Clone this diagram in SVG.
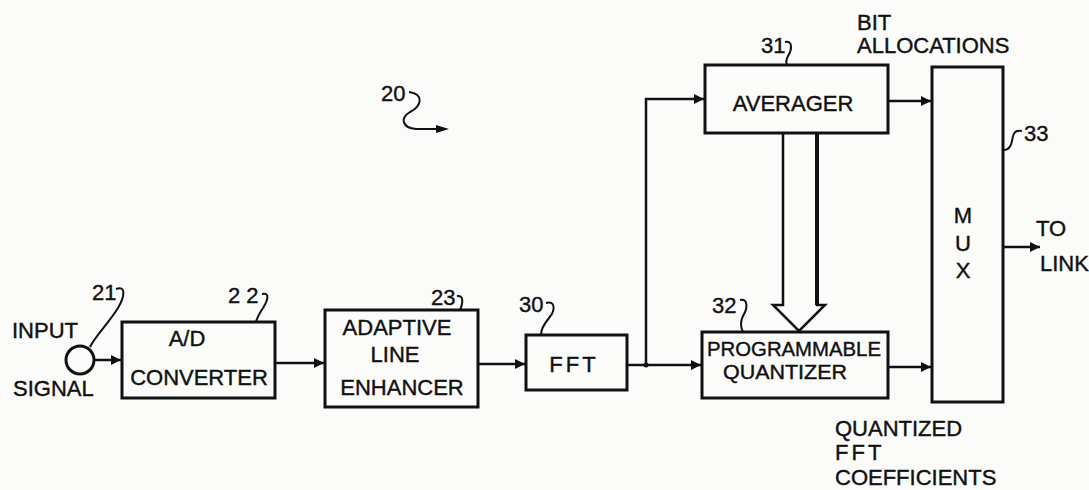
<svg xmlns="http://www.w3.org/2000/svg" width="1089" height="490" viewBox="0 0 1089 490">
<defs>
<style>
.box{fill:none;stroke:#111;stroke-width:3}
.ln{fill:none;stroke:#111;stroke-width:2.5}
.sq{fill:none;stroke:#111;stroke-width:2}
text{font-family:"Liberation Sans",Arial,sans-serif;font-size:22px;fill:#111;stroke:#111;stroke-width:0.4}
.c{text-anchor:middle}
.s{font-size:20px}
</style>
<marker id="ah" viewBox="0 0 10 10" refX="10" refY="5" markerWidth="4" markerHeight="4" orient="auto" markerUnits="strokeWidth">
<path d="M0,0 L10,5 L0,10 z" fill="#111"/>
</marker>
</defs>
<rect width="1089" height="490" fill="#fbfbfa"/>

<g id="ref20">
<text x="381" y="101">20</text>
<path class="sq" d="M409,92 C424,94 422,106 410,112 C400,118 402,128 416,129 L438,129"/>
<path d="M436,125 L449,129 L436,133 z" fill="#111"/>
</g>

<g id="input">
<circle cx="80" cy="360" r="14" fill="none" stroke="#111" stroke-width="3"/>
<text x="12" y="338">INPUT</text>
<text x="13" y="396">SIGNAL</text>
<text x="92" y="300">21</text>
<path class="sq" d="M116,289 C126,285 125,296 118,308 C108,324 96,335 90,347"/>
</g>

<g id="adc">
<rect class="box" x="122" y="322" width="153" height="76"/>
<text class="c" x="187" y="346">A/D</text>
<text class="c" x="199" y="385">CONVERTER</text>
<text x="228" y="303">2 2</text>
<path class="sq" d="M262,294 C270,292 268,300 263,308 C259,314 257,318 256,322"/>
</g>

<g id="ale">
<rect class="box" x="325" y="310" width="153" height="97"/>
<text class="c" x="397" y="335">ADAPTIVE</text>
<text class="c" x="395" y="362">LINE</text>
<text class="c" x="402" y="395">ENHANCER</text>
<text x="431" y="305">23</text>
<path class="sq" d="M457,296 C464,295 463,303 460,310"/>
</g>

<g id="fft">
<rect class="box" x="526" y="335" width="101" height="55"/>
<text class="c" x="574" y="372" letter-spacing="3">FFT</text>
<text x="519" y="312">30</text>
<path class="sq" d="M546,303 C555,300 556,310 549,318 C544,324 541,330 541,335"/>
</g>

<g id="averager">
<rect class="box" x="705" y="65" width="183" height="68"/>
<text class="c" x="793" y="111">AVERAGER</text>
<text x="761" y="53">31</text>
<path class="sq" d="M785,42 C793,40 792,50 788,56 C786,60 786,63 787,65"/>
</g>

<g id="quantizer">
<rect class="box" x="702" y="332" width="186" height="66"/>
<text class="c s" x="794" y="356" textLength="174" lengthAdjust="spacingAndGlyphs">PROGRAMMABLE</text>
<text class="c s" x="785" y="379" textLength="124" lengthAdjust="spacingAndGlyphs">QUANTIZER</text>
<text x="712" y="313">32</text>
<path class="sq" d="M740,300 C748,298 748,308 743,316 C740,322 741,328 743,332"/>
</g>

<g id="mux">
<rect class="box" x="932" y="67" width="71" height="335"/>
<text class="c" x="963" y="223">M</text>
<text class="c" x="963" y="251">U</text>
<text class="c" x="963" y="278">X</text>
<text x="1024" y="141">33</text>
<path class="sq" d="M1003,150 C1012,150 1012,140 1013,136 C1014,131 1018,130 1022,131"/>
</g>

<g id="labels">
<text x="857" y="30">BIT</text>
<text x="857" y="53">ALLOCATIONS</text>
<text x="1036" y="236">TO</text>
<text x="1040" y="271">LINK</text>
<text x="835" y="436">QUANTIZED</text>
<text x="835" y="460" letter-spacing="3">FFT</text>
<text x="835" y="485">COEFFICIENTS</text>
</g>

<g id="connectors">
<line class="ln" x1="94" y1="360" x2="121" y2="360" marker-end="url(#ah)"/>
<line class="ln" x1="275" y1="363" x2="324" y2="363" marker-end="url(#ah)"/>
<line class="ln" x1="478" y1="364" x2="525" y2="364" marker-end="url(#ah)"/>
<line class="ln" x1="627" y1="365" x2="701" y2="365" marker-end="url(#ah)"/>
<polyline class="ln" points="646,365 646,99 704,99" marker-end="url(#ah)"/>
<circle cx="646" cy="365" r="2.5" fill="#111"/>
<line class="ln" x1="888" y1="101" x2="931" y2="101" marker-end="url(#ah)"/>
<line class="ln" x1="888" y1="367" x2="931" y2="367" marker-end="url(#ah)"/>
<line class="ln" x1="1003" y1="247" x2="1040" y2="247" marker-end="url(#ah)"/>
<path d="M783,133 L783,305 L773,305 L799,331 L825,305 L817,305 L817,133" fill="none" stroke="#111" stroke-width="2.5" stroke-linejoin="miter"/>
<line x1="817" y1="133" x2="817" y2="305" stroke="#111" stroke-width="4"/>
</g>
</svg>
